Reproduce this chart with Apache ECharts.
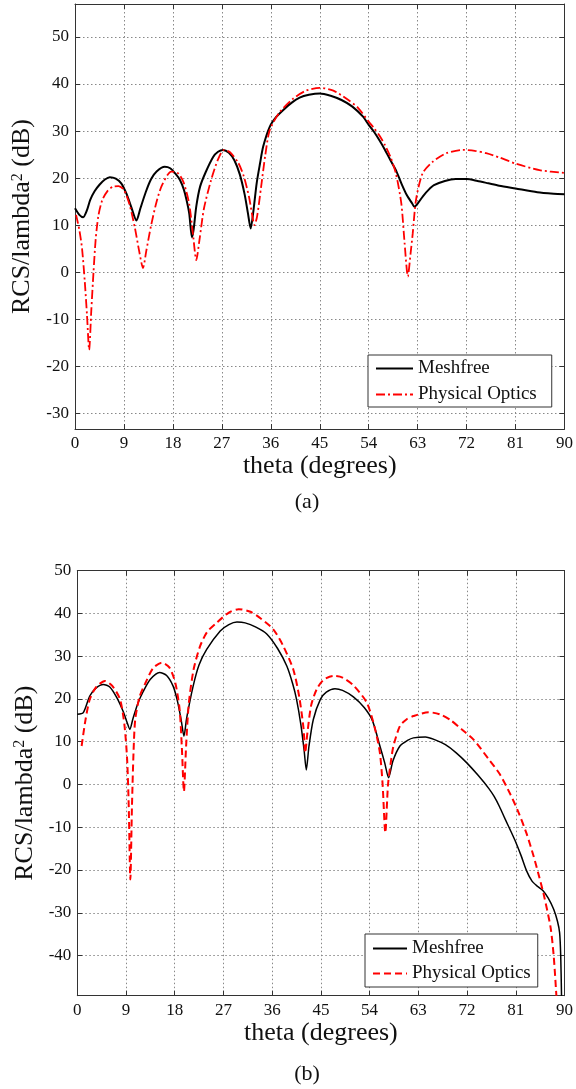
<!DOCTYPE html>
<html><head><meta charset="utf-8">
<script src="https://cdn.jsdelivr.net/npm/echarts@6/dist/echarts.min.js"></script>
<style>html,body{margin:0;padding:0;background:#fff}#c{width:576px;height:1089px}</style>
</head><body><div id="c"></div>
<script>
const FONT = 'Liberation Serif, Times New Roman, serif';
const thetaTicks = [0, 9, 18, 27, 36, 45, 54, 63, 72, 81, 90];
const yTicksA = [-30, -20, -10, 0, 10, 20, 30, 40, 50];
const yTicksB = [-40, -30, -20, -10, 0, 10, 20, 30, 40, 50];
const seriesNames = ['Meshfree', 'Physical Optics'];

// Panel (a): [theta, RCS dB]
const aMeshfree = [[0,13.6],[0.8,12.2],[1.5,11.7],[2.2,13.2],[2.8,15.4],[3.6,17.2],[4.5,18.6],[5.5,19.7],[6.4,20.2],[7.5,19.9],[8.5,18.9],[9.5,16.6],[10.3,14],[11.3,11.0],[12,13.5],[13,17],[14,19.8],[15,21.4],[16.5,22.4],[17.5,22.1],[18.5,20.9],[19.3,19.6],[20,17.6],[20.5,15.4],[21,12.5],[21.5,7.4],[21.8,9],[22.3,14],[23,18.2],[24,21.2],[25.4,24.5],[26.3,25.6],[27.2,26],[28.3,25.4],[29.3,23.8],[30.3,20.8],[31.2,16.5],[31.8,12.5],[32.3,9.3],[32.8,13],[33.4,18.9],[34,23],[34.6,26.7],[35.8,30.9],[37,33],[38.3,34.5],[39.8,36],[41.3,37.1],[43,37.7],[45,38.0],[47,37.5],[49,36.6],[51,35.2],[53,33.0],[54,31.3],[55,29.8],[56,28.0],[57,26],[58,23.8],[59,21.7],[60,18.9],[61,16.4],[62,14.6],[62.4,13.9],[63,14.6],[64,16.2],[65,17.5],[66,18.5],[68,19.4],[70,19.8],[72,19.8],[74,19.4],[76,18.9],[78,18.4],[81,17.8],[85,17.0],[88,16.7],[90,16.6]];
const aPhysOptics = [[0.2,12.2],[0.8,9],[1.3,5],[1.8,-2],[2.2,-9],[2.6,-16.5],[3.0,-8],[3.4,0],[3.8,7],[4.3,12],[5,15.3],[6,17.3],[7,18.2],[8,18.3],[9,17.5],[10,14.5],[11,9.5],[11.8,4.5],[12.5,0.9],[13.1,4.5],[14,10],[15,15],[16,18.5],[17.7,21.4],[19,21],[20,19],[21,14.5],[21.7,8],[22.3,2.6],[22.9,7],[23.7,13.5],[25,19.5],[26.3,24],[27.4,26],[28.5,25.5],[30,23.3],[31,20.5],[32,16],[32.6,12],[33,10],[33.5,12],[34.2,18],[35,25],[35.8,30.2],[37.5,33.8],[40,36.8],[42.5,38.6],[45,39.2],[47.5,38.6],[50,36.8],[52,35.0],[54,32.0],[55,30.6],[56,29.0],[57,27.0],[58,24.5],[59,21],[60,14.6],[60.6,6.2],[61.2,-0.9],[61.7,4],[62.1,8.3],[62.7,15.4],[63.9,21],[65.8,23.5],[68.3,25.3],[71.3,26],[73.5,25.8],[75.6,25.3],[78,24.4],[81,23.1],[85.4,21.7],[90,21.1]];

// Panel (b): [theta, RCS dB]
const bMeshfree = [[0,16.4],[1.1,16.8],[2.3,20.7],[3.5,22.6],[4.8,23.4],[6,22.8],[7.3,20.3],[8.5,17],[9.2,14.5],[9.7,12.9],[10.3,15.5],[11.2,19],[12.2,21.8],[13.5,24.6],[15.2,26.2],[16.5,25.5],[17.7,23],[18.5,19.5],[19.2,15],[19.7,11.3],[20.2,15.5],[21.4,23],[22.5,28],[23.9,31.6],[26.4,35.9],[28,37.4],[29.5,38.0],[31,37.8],[33,36.8],[35,35.2],[37,31.8],[38.7,27.7],[39.8,23.5],[40.5,19.9],[41.3,14],[41.9,8],[42.3,3.4],[42.8,9],[43.6,15.2],[44.9,19.9],[46,21.6],[47.6,22.4],[49,22.0],[51,20.5],[53,18],[54.5,15],[55.9,9],[56.8,5],[57.5,1.6],[58.3,5.5],[59.6,9],[61,10.3],[62.1,10.9],[64.3,11.1],[66,10.5],[68,9.3],[70,7.4],[72,5],[74,2.2],[76,-0.9],[77,-2.8],[78,-5.2],[79,-8],[80,-10.7],[81,-13.5],[82,-16.7],[83,-20.2],[84,-22.6],[85,-23.8],[86,-24.8],[87,-26.6],[88,-29.2],[88.7,-32],[89.1,-34.7],[89.3,-40],[89.45,-49.4]];
const bPhysOptics = [[0.8,9.0],[1.5,15],[2.3,19.9],[3.5,22.8],[5.1,24.2],[6.5,23],[7.9,19.9],[8.7,14],[9.2,6],[9.5,-5],[9.8,-22.2],[10.1,-5],[10.4,8],[10.7,15.2],[11.5,20.5],[12.5,23.5],[14,27.2],[15.6,28.5],[17,27.4],[18.1,23.8],[18.9,17.6],[19.3,9],[19.7,-1.6],[20.1,9],[20.6,19],[21.5,27],[22.7,32.4],[24,35.7],[25.8,37.9],[28,40.2],[29.8,41.0],[32,40.4],[34,38.7],[36.2,36.3],[38,32.5],[39.9,26.9],[41,20.5],[41.8,13],[42.1,7.4],[42.5,12],[43.2,18.5],[44.2,22.2],[45.5,24.5],[47.3,25.4],[49,25],[51,23.2],[53.5,19.1],[55,13],[55.9,7.4],[56.4,0],[56.9,-11.3],[57.4,0],[58,6],[58.4,9],[59.6,13.7],[60.8,15.2],[62.1,16],[64.9,16.9],[67,16.4],[69,15],[71,12.9],[73.2,10.5],[76,5.9],[78,2.5],[80,-2.3],[81.5,-6.5],[83,-11.5],[84.3,-16.8],[85.2,-21],[86.1,-25.4],[87.4,-33.2],[88,-40],[88.5,-49.4]];

const AX = '#333';
function xAxes(gridIndex) {
  const base = { type: 'value', gridIndex, min: 0, max: 90, interval: 9,
    axisLine: { show: true, onZero: false, lineStyle: { color: AX, width: 1 } },
    axisTick: { show: true, inside: true, length: 5, lineStyle: { color: AX } } };
  return [
    Object.assign({}, base, { position: 'bottom',
      axisLabel: { show: true, fontFamily: FONT, fontSize: 17, color: '#111', margin: 6, customValues: thetaTicks },
      splitLine: { show: true, lineStyle: { color: '#888', type: [1.5, 2.5], width: 1 } },
      name: 'theta (degrees)', nameLocation: 'middle', nameGap: 24,
      nameTextStyle: { fontFamily: FONT, fontSize: 26, color: '#111' } }),
    Object.assign({}, base, { position: 'top', axisLabel: { show: false }, splitLine: { show: false } })
  ];
}
function yAxes(gridIndex, min, max, ticks, split) {
  const base = { type: 'value', gridIndex, min, max, splitNumber: split,
    axisLine: { show: true, onZero: false, lineStyle: { color: AX, width: 1 } },
    axisTick: { show: true, inside: true, length: 5, lineStyle: { color: AX }, customValues: ticks } };
  return [
    Object.assign({}, base, { position: 'left',
      axisLabel: { show: true, fontFamily: FONT, fontSize: 17, color: '#111', margin: 6, customValues: ticks },
      splitLine: { show: true, lineStyle: { color: '#888', type: [1.5, 2.5], width: 1 } },
      name: '{a|RCS/lambda}{s|2}{a| (dB)}', nameLocation: 'middle', nameGap: 36, nameRotate: 90,
      nameTextStyle: { fontFamily: FONT, fontSize: 26, color: '#111',
        rich: { a: { fontFamily: FONT, fontSize: 26, color: '#111' },
                s: { fontFamily: FONT, fontSize: 16, color: '#111', verticalAlign: 'top' } } } }),
    Object.assign({}, base, { position: 'right', axisLabel: { show: false }, splitLine: { show: false } })
  ];
}
function legend(names, left, top, itemWidth, pad, gap) {
  return { data: names, orient: 'vertical', left, top, itemWidth, itemHeight: 12, itemGap: gap,
    padding: pad, borderColor: AX, borderWidth: 1, borderRadius: 0, backgroundColor: '#fff',
    selectedMode: false, formatter: n => n.trim(),
    itemStyle: { opacity: 0 },
    textStyle: { fontFamily: FONT, fontSize: 19, color: '#111' } };
}

const chart = echarts.init(document.getElementById('c'), null, { renderer: 'canvas' });
chart.setOption({
  backgroundColor: '#fff',
  animation: false,
  grid: [
    { left: 75, top: 4, width: 490.7, height: 425, containLabel: false },
    { left: 77.3, top: 570.7, width: 488.4, height: 425, containLabel: false }
  ],
  xAxis: [...xAxes(0), ...xAxes(1)],
  yAxis: [...yAxes(0, -33.3, 57, yTicksA, 9), ...yAxes(1, -49.4, 50, yTicksB, 10)],
  legend: [
    legend([seriesNames[0], seriesNames[1]], 368, 355, 37, [4, 15, 3, 7], 7),
    legend([seriesNames[0] + ' ', seriesNames[1] + ' '], 365, 934, 34, [5, 7, 4, 7], 6)
  ],
  graphic: [
    { type: 'text', x: 307, y: 502, style: { text: '(a)', fontFamily: FONT, fontSize: 22, fill: '#111', align: 'center', verticalAlign: 'middle' } },
    { type: 'text', x: 307, y: 1074, style: { text: '(b)', fontFamily: FONT, fontSize: 22, fill: '#111', align: 'center', verticalAlign: 'middle' } }
  ],
  series: [
    { name: seriesNames[0], type: 'line', xAxisIndex: 0, yAxisIndex: 0, data: aMeshfree, showSymbol: false, symbol: 'none', smooth: 0.25,
      lineStyle: { color: '#000', width: 2 }, itemStyle: { color: '#000' } },
    { name: seriesNames[1], type: 'line', xAxisIndex: 0, yAxisIndex: 0, data: aPhysOptics, showSymbol: false, symbol: 'none', smooth: 0.25,
      lineStyle: { color: '#ff0000', width: 1.8, type: [9, 3, 2, 3] }, itemStyle: { color: '#ff0000' } },
    { name: seriesNames[0] + ' ', type: 'line', xAxisIndex: 2, yAxisIndex: 2, data: bMeshfree, showSymbol: false, symbol: 'none', smooth: 0.25,
      lineStyle: { color: '#000', width: 1.5 }, itemStyle: { color: '#000' } },
    { name: seriesNames[1] + ' ', type: 'line', xAxisIndex: 2, yAxisIndex: 2, data: bPhysOptics, showSymbol: false, symbol: 'none', smooth: 0.25,
      lineStyle: { color: '#ff0000', width: 2, type: [7, 4] }, itemStyle: { color: '#ff0000' } }
  ]
});
</script></body></html>
